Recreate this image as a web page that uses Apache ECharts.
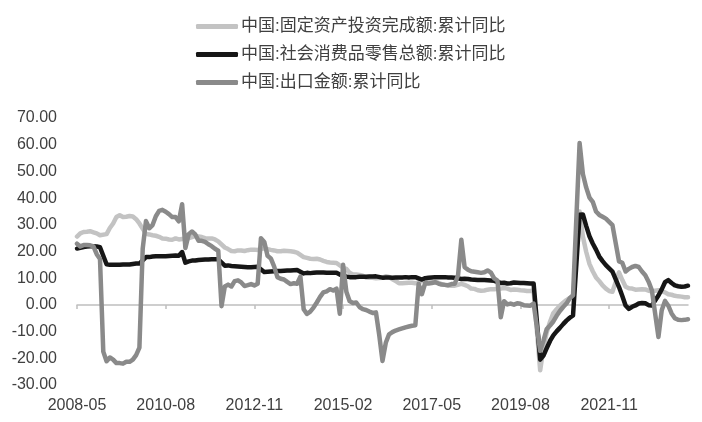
<!DOCTYPE html>
<html>
<head>
<meta charset="utf-8">
<script src="https://cdn.jsdelivr.net/npm/echarts@6/dist/echarts.min.js"></script>
<style>
  html, body { margin: 0; padding: 0; background: #fff; }
  #chart { width: 702px; height: 422px; }
</style>
</head>
<body>
<div id="chart"></div>
<script>
// 月份：2008-05 ~ 2023-11
const startYear = 2008, startMonth = 5, monthCount = 187;
const months = [];
for (let k = 0; k < monthCount; k++) {
    const m = startMonth - 1 + k;
    const y = startYear + Math.floor(m / 12);
    const mm = (m % 12) + 1;
    months.push(y + '-' + (mm < 10 ? '0' + mm : mm));
}

const seriesNames = [
    '中国:固定资产投资完成额:累计同比',
    '中国:社会消费品零售总额:累计同比',
    '中国:出口金额:累计同比'
];

// 固定资产投资完成额:累计同比 (%)
const faiYoy = [
    25.6, 26.8, 27.3, 27.4, 27.6, 27.2, 26.8, 26.1,
    null, 26.5, 28.8, 30.5, 32.9, 33.6, 32.9, 33.0, 33.3, 33.1, 32.1, 30.5,
    null, 26.6, 26.4, 26.1, 25.9, 25.5, 24.9, 24.8, 24.5, 24.4, 24.9, 24.5,
    null, 24.9, 25.0, 25.4, 25.8, 25.6, 25.4, 25.0, 24.9, 24.9, 24.5, 23.8,
    null, 21.5, 20.9, 20.2, 20.1, 20.4, 20.4, 20.2, 20.5, 20.7, 20.7, 20.6,
    null, 21.2, 20.9, 20.6, 20.4, 20.1, 20.1, 20.3, 20.2, 20.1, 19.9, 19.6,
    null, 17.9, 17.6, 17.3, 17.2, 17.3, 17.0, 16.5, 16.1, 15.9, 15.8, 15.7,
    null, 13.9, 13.5, 12.0, 11.4, 11.4, 11.2, 10.9, 10.3, 10.2, 10.2, 10.0,
    null, 10.2, 10.7, 10.5, 9.6, 9.0, 8.1, 8.1, 8.2, 8.3, 8.3, 8.1,
    null, 8.9, 9.2, 8.9, 8.6, 8.6, 8.3, 7.8, 7.5, 7.3, 7.2, 7.2,
    null, 7.9, 7.5, 7.0, 6.1, 6.0, 5.5, 5.3, 5.4, 5.7, 5.9, 5.9,
    null, 6.1, 6.3, 6.1, 5.6, 5.8, 5.7, 5.5, 5.4, 5.2, 5.2, 5.4,
    null, -24.5, -16.1, -10.3, -6.3, -3.1, -1.6, -0.3, 0.8, 1.8, 2.6, 2.9,
    null, 35.0, 25.6, 19.9, 15.4, 12.6, 10.3, 8.9, 7.3, 6.1, 5.2, 4.9,
    null, 12.2, 9.3, 6.8, 6.2, 6.1, 5.7, 5.8, 5.9, 5.8, 5.3, 5.1,
    null, 5.5, 5.1, 4.7, 4.0, 3.8, 3.4, 3.2, 3.1, 2.9, 2.9
];

// 社会消费品零售总额:累计同比 (%)
const retailYoy = [
    21.1, 21.4, 21.7, 21.9, 22.0, 22.0, 21.9, 21.6,
    null, 15.2, 15.0, 15.0, 15.0, 15.0, 15.1, 15.1, 15.1, 15.3, 15.5, 15.5,
    null, 17.9, 17.9, 18.1, 18.2, 18.2, 18.2, 18.2, 18.3, 18.4, 18.5, 18.4,
    19.8, 15.8, 16.3, 16.6, 16.6, 16.8, 16.9, 17.0, 17.0, 17.1, 17.1, 17.1,
    null, 14.7, 14.8, 14.6, 14.5, 14.4, 14.3, 14.2, 14.1, 14.1, 14.2, 14.3,
    null, 12.3, 12.4, 12.5, 12.6, 12.7, 12.7, 12.8, 12.9, 12.9, 13.0, 13.1,
    null, 11.8, 12.0, 11.9, 12.0, 12.1, 12.1, 12.1, 12.0, 12.0, 12.0, 12.0,
    null, 10.7, 10.6, 10.4, 10.4, 10.4, 10.5, 10.5, 10.5, 10.6, 10.6, 10.7,
    null, 10.2, 10.3, 10.3, 10.2, 10.3, 10.3, 10.3, 10.4, 10.3, 10.4, 10.4,
    null, 9.5, 10.0, 10.2, 10.3, 10.4, 10.4, 10.4, 10.4, 10.3, 10.3, 10.2,
    null, 9.7, 9.8, 9.7, 9.5, 9.4, 9.3, 9.3, 9.3, 9.2, 9.1, 9.0,
    null, 8.2, 8.3, 8.0, 8.1, 8.4, 8.3, 8.2, 8.2, 8.1, 8.0, 8.0,
    null, -20.5, -19.0, -16.2, -13.5, -11.4, -9.9, -8.6, -7.2, -5.9, -4.8, -3.9,
    null, 33.8, 33.9, 29.6, 25.7, 23.0, 20.7, 18.1, 16.4, 14.9, 13.7, 12.5,
    null, 6.7, 3.3, -0.2, -1.5, -0.7, -0.2, 0.5, 0.7, 0.6, -0.1, -0.2,
    null, 3.5, 5.8, 8.5, 9.3, 8.2, 7.3, 7.0, 6.8, 6.9, 7.2
];

// 出口金额:累计同比 (%)
const exportYoy = [
    22.9, 21.9, 22.4, 22.4, 22.3, 21.9, 19.0, 17.2,
    -17.5, -21.1, -19.7, -20.5, -21.8, -21.8, -22.0, -21.3, -21.3, -20.5, -18.8, -16.0,
    21.0, 31.4, 28.7, 29.9, 33.2, 35.2, 35.6, 34.9, 34.0, 32.9, 32.9, 31.3,
    37.7, 21.3, 26.5, 27.5, 26.4, 24.0, 24.0, 23.6, 22.7, 22.0, 21.0, 20.3,
    -0.5, 6.9, 7.6, 6.9, 8.9, 9.2, 8.4, 7.1, 7.4, 7.8, 7.3, 7.9,
    25.0, 23.6, 18.4, 17.4, 14.4, 10.4, 9.8, 9.5, 8.6, 7.8, 8.1, 7.9,
    10.6, -1.6, -3.4, -2.5, -1.0, 0.9, 3.0, 4.7, 5.1, 5.9, 5.4, 6.1,
    -3.3, 15.0, 4.9, 1.4, 0.7, 0.9, -0.8, -1.6, -1.9, -2.5, -3.0, -2.8,
    -11.2, -21.0, -14.2, -11.0, -10.2, -9.6, -9.2, -8.8, -8.4, -8.1, -7.8, -7.6,
    7.9, 4.0, 8.2, 8.0, 8.2, 8.5, 8.0, 7.6, 7.5, 7.4, 7.8, 7.9,
    11.1, 24.4, 14.1, 13.2, 12.6, 12.4, 12.2, 12.0, 12.2, 12.9, 12.1, 9.9,
    9.1, -4.6, 1.4, 0.2, 0.5, 0.1, 0.6, 0.4, -0.1, -0.2, -0.3, 0.5,
    null, -17.2, -13.4, -9.0, -7.7, -6.2, -4.1, -2.3, -0.8, 0.5, 2.5, 3.6,
    null, 60.6, 49.0, 44.0, 40.2, 38.6, 35.0, 33.7, 33.0, 32.3, 31.1, 29.9,
    null, 16.3, 15.8, 12.5, 13.5, 14.2, 14.6, 14.2, 12.5, 11.1, 8.7, 5.5,
    null, -12.0, -2.0, 1.5, -0.3, -3.2, -5.0, -5.6, -5.7, -5.6, -5.4
];

const seriesColors = ['#c3c3c3', '#161616', '#8a8a8a'];
const labelFont = "'Liberation Sans', 'Noto Sans CJK SC', sans-serif";

const chart = echarts.init(document.getElementById('chart'));

const makeLine = (name, data, color) => ({
    name: name,
    type: 'line',
    data: data,
    symbol: 'none',
    connectNulls: true,
    color: color,
    lineStyle: { width: 4.5, color: color, cap: 'round', join: 'round' },
    emphasis: { disabled: true }
});

chart.setOption({
    animation: false,
    backgroundColor: '#fff',
    legend: {
        orient: 'vertical',
        left: 191,
        top: 13,
        itemWidth: 42,
        itemHeight: 5,
        itemGap: 11,
        icon: 'roundRect',
        textStyle: { fontSize: 17, color: '#404040', fontFamily: labelFont, padding: [0, 0, 0, -2] },
        data: seriesNames
    },
    grid: { left: 77, right: 14, top: 118, bottom: 37, containLabel: false, outerBoundsMode: 'none' },
    xAxis: {
        type: 'category',
        data: months,
        boundaryGap: false,
        axisLine: { onZero: true, lineStyle: { color: '#bfbfbf', width: 1.5 } },
        axisTick: { interval: 26, length: 4, lineStyle: { color: '#bfbfbf', width: 1.5 } },
        axisLabel: {
            interval: 26,
            margin: 13,
            fontSize: 16,
            color: '#404040',
            fontFamily: labelFont
        },
        splitLine: { show: false }
    },
    yAxis: {
        type: 'value',
        min: -30,
        max: 70,
        interval: 10,
        axisLine: { show: false },
        axisTick: { show: false },
        splitLine: { show: false },
        axisLabel: {
            margin: 20,
            fontSize: 16,
            color: '#404040',
            fontFamily: labelFont,
            formatter: (v) => v.toFixed(2)
        }
    },
    series: [
        makeLine(seriesNames[0], faiYoy, seriesColors[0]),
        makeLine(seriesNames[1], retailYoy, seriesColors[1]),
        makeLine(seriesNames[2], exportYoy, seriesColors[2])
    ]
});
</script>
</body>
</html>
